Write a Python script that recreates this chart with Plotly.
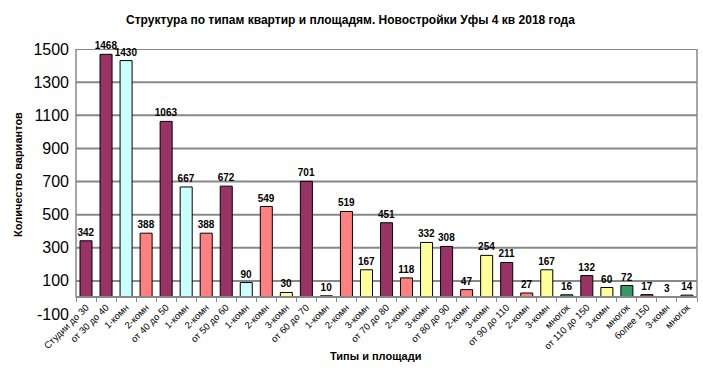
import plotly.graph_objects as go

categories = ["Студии до 30", "от 30 до 40", "1-комн", "2-комн", "от 40 до 50", "1-комн", "2-комн",
              "от 50 до 60", "1-комн", "2-комн", "3-комн", "от 60 до 70", "1-комн", "2-комн", "3-комн",
              "от 70 до 80", "2-комн", "3-комн", "от 80 до 90", "2-комн", "3-комн", "от 90 до 110",
              "2-комн", "3-комн", "многок", "от 110 до 150", "3-комн", "многок", "более 150", "3-комн", "многок"]
values = [342, 1468, 1430, 388, 1063, 667, 388, 672, 90, 549, 30, 701, 10, 519, 167, 451, 118, 332,
          308, 47, 254, 211, 27, 167, 16, 132, 60, 72, 17, 3, 14]
y_ticks = [-100, 100, 300, 500, 700, 900, 1100, 1300, 1500]

PURPLE, CYAN, SALMON, YELLOW, GREEN, LAV = "#993366", "#CCFFFF", "#FF8080", "#FFFF99", "#339966", "#9999FF"
type_color = {"1-комн": CYAN, "2-комн": SALMON, "3-комн": YELLOW, "многок": GREEN}
colors = [type_color.get(c, PURPLE) for c in categories]
colors[-1] = LAV
colors[-2] = "#660033"

xs = list(range(len(categories)))
FONT = "Liberation Sans, Arial, sans-serif"

fig = go.Figure(go.Bar(
    x=xs, y=values, marker=dict(color=colors, line=dict(color="#000000", width=1)),
    text=[str(v) for v in values], textposition="outside", cliponaxis=False,
    constraintext="none",
    textfont=dict(family=FONT, size=10, color="#000000"),
    texttemplate="<b>%{text}</b>", width=0.6,
))

shapes = []
for t in y_ticks[1:]:
    shapes.append(dict(type="line", xref="paper", yref="y", x0=0, x1=1, y0=t, y1=t,
                       line=dict(color="#888888", width=2), layer="below"))
shapes.append(dict(type="line", xref="paper", yref="y", x0=0, x1=0, y0=0, y1=1500,
                   line=dict(color="#888888", width=1.5)))
shapes.append(dict(type="line", xref="paper", yref="y", x0=1, x1=1, y0=0, y1=1500,
                   line=dict(color="#888888", width=1.5)))

fig.update_layout(
    width=703, height=371,
    margin=dict(l=76, r=6, t=49, b=57, autoexpand=False),
    paper_bgcolor="white", plot_bgcolor="white",
    showlegend=False,
    font=dict(family=FONT, color="#000000"),
    shapes=shapes,
    xaxis=dict(
        range=[-0.5, len(categories) - 0.5],
        tickvals=xs, ticktext=categories, tickangle=-45,
        tickfont=dict(family=FONT, size=9.5, color="#000000"),
        ticks="", showgrid=False, zeroline=False, automargin=False,
        showline=True, linecolor="#888888", linewidth=1.5,
        anchor="free", position=100 / 1600,
        minor=dict(tickvals=[i - 0.5 for i in range(len(categories) + 1)],
                   ticks="outside", ticklen=4, tickcolor="#888888", tickwidth=1, showgrid=False),
    ),
    yaxis=dict(
        range=[-100, 1500], tickvals=y_ticks, ticktext=[str(t) for t in y_ticks],
        tickfont=dict(family=FONT, size=16, color="#000000"), automargin=False,
        showgrid=False, zeroline=False, showline=False, ticks="", ticklabelstandoff=6,
    ),
    annotations=[
        dict(text="<b>Структура по типам квартир и площадям. Новостройки Уфы 4 кв 2018 года</b>",
             xref="paper", yref="paper", x=(350 - 76) / 621, y=1, yshift=29, showarrow=False,
             font=dict(family=FONT, size=12, color="#000000"), xanchor="center", yanchor="middle"),
        dict(text="<b>Количество вариантов</b>", xref="paper", yref="paper",
             x=0, xshift=-58, y=(314 - 175) / 265, textangle=-90, showarrow=False,
             font=dict(family=FONT, size=11, color="#000000"), xanchor="center", yanchor="middle"),
        dict(text="<b>Типы и площади</b>", xref="paper", yref="paper",
             x=(375 - 76) / 621, y=0, yshift=-42, showarrow=False,
             font=dict(family=FONT, size=11, color="#000000"), xanchor="center", yanchor="middle"),
    ],
)

fig.write_html("out.html", config={"displayModeBar": False},
               post_script="document.body.style.margin='0';")
